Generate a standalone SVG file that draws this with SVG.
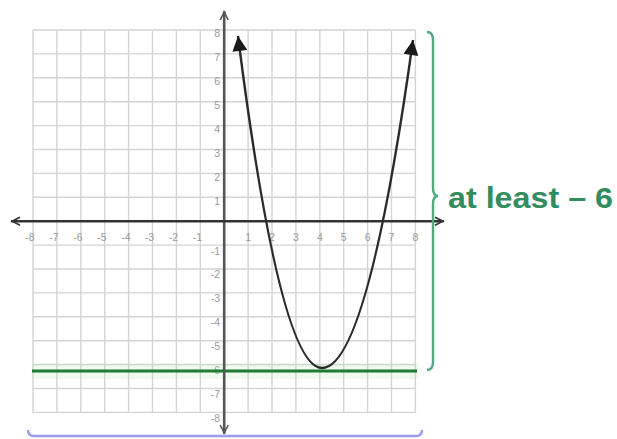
<svg xmlns="http://www.w3.org/2000/svg" width="617" height="439" viewBox="0 0 617 439">
<style>
.grid{stroke:#d4d4d4;stroke-width:1.4;fill:none}
.lbl{font-family:"Liberation Sans",Arial,sans-serif;font-size:10.5px;fill:#999}
.xl{text-anchor:middle}
.yl{text-anchor:end}
.axis{fill:none;stroke-linecap:round}
.title{font-family:"Liberation Sans",Arial,sans-serif;font-weight:bold;font-size:29px;fill:#338c5e}
</style>
<defs>
<marker id="chevD" viewBox="0 0 10 10" refX="9" refY="5" markerWidth="10" markerHeight="15" markerUnits="userSpaceOnUse" orient="auto-start-reverse">
<path d="M1,1 L9,5 L1,9" fill="none" stroke="#555" stroke-width="1.6"/>
</marker>
<marker id="chevX" viewBox="0 0 10 10" refX="9" refY="5" markerWidth="10" markerHeight="15" markerUnits="userSpaceOnUse" orient="auto-start-reverse">
<path d="M1,1 L9,5 L1,9" fill="none" stroke="#333" stroke-width="1.6"/>
</marker>
<marker id="tri" viewBox="0 0 10 10" refX="10" refY="5" markerWidth="17" markerHeight="15" markerUnits="userSpaceOnUse" orient="auto-start-reverse">
<path d="M0,0 L10,5 L0,10 z" fill="#1a1a1a"/>
</marker>
</defs>
<rect width="617" height="439" fill="#fff"/>
<g id="grid">
<path class="grid" d="M33,30V412.4M56.9,30V412.4M80.8,30V412.4M104.7,30V412.4M128.6,30V412.4M152.5,30V412.4M176.4,30V412.4M200.3,30V412.4M248.1,30V412.4M272,30V412.4M295.9,30V412.4M319.8,30V412.4M343.7,30V412.4M367.6,30V412.4M391.5,30V412.4M415.4,30V412.4
M33,30H415.4M33,53.9H415.4M33,77.8H415.4M33,101.7H415.4M33,125.6H415.4M33,149.5H415.4M33,173.4H415.4M33,197.3H415.4M33,245.1H415.4M33,269H415.4M33,292.9H415.4M33,316.8H415.4M33,340.7H415.4M33,364.6H415.4M33,388.5H415.4M33,412.4H415.4"/>
</g>
<g id="xlabels" class="lbl xl">
<text x="30" y="241">-8</text><text x="54" y="241">-7</text><text x="78" y="241">-6</text><text x="102" y="241">-5</text><text x="126" y="241">-4</text><text x="149.5" y="241">-3</text><text x="173.5" y="241">-2</text><text x="197.5" y="241">-1</text>
<text x="248.1" y="241">1</text><text x="272" y="241">2</text><text x="295.9" y="241">3</text><text x="319.8" y="241">4</text><text x="343.7" y="241">5</text><text x="367.6" y="241">6</text><text x="391.5" y="241">7</text><text x="415.4" y="241">8</text>
</g>
<g id="ylabels" class="lbl yl">
<text x="220" y="37">8</text><text x="220" y="61">7</text><text x="220" y="85">6</text><text x="220" y="109">5</text><text x="220" y="133">4</text><text x="220" y="157">3</text><text x="220" y="181">2</text><text x="220" y="205">1</text>
<text x="220" y="255">-1</text><text x="220" y="278">-2</text><text x="220" y="302">-3</text><text x="220" y="326">-4</text><text x="220" y="350">-5</text><text x="220" y="374">-6</text><text x="220" y="398">-7</text><text x="220" y="422">-8</text>
</g>
<g id="boundary">
<rect x="32" y="363" width="386" height="16" fill="#a6e6a6" opacity="0.2"/>
<line x1="32" y1="371" x2="417" y2="371" stroke="#1f7a32" stroke-width="3.2"/>
</g>
<g id="connectors">
<line class="axis" x1="224.2" y1="433" x2="224.2" y2="12" stroke="#555" stroke-width="2.6" marker-start="url(#chevD)" marker-end="url(#chevD)"/>
<line class="axis" x1="12" y1="221.2" x2="443" y2="221.2" stroke="#333" stroke-width="2.4" marker-start="url(#chevX)" marker-end="url(#chevX)"/>
</g>
<g id="parabola">
<path d="M238,36 Q280,368 322,368 Q367.5,368 413,40" fill="none" stroke="#2a2a2a" stroke-width="2.4" marker-start="url(#tri)" marker-end="url(#tri)"/>
</g>
<g id="range-brace">
<path d="M427,32 Q433,32 433,40 V188 Q433,196 438,196 Q433,196 433,204 V362 Q433,370 427,370" fill="none" stroke="#55a882" stroke-width="2.4"/>
<text class="title" x="448" y="208" textLength="165" lengthAdjust="spacingAndGlyphs">at least – 6</text>
</g>
<g id="domain-brace">
<path d="M28,430 Q28,436 34,436 H416 Q422,436 422,430" fill="none" stroke="#9a9cf0" stroke-width="2.4"/>
</g>
</svg>
